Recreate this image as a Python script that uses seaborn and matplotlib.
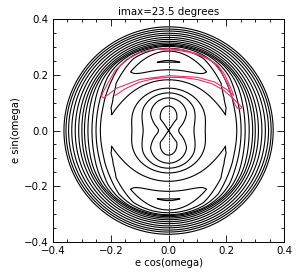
import numpy as np
import pandas as pd
import seaborn as sns
import matplotlib
matplotlib.use('Agg')
import matplotlib.pyplot as plt
from matplotlib.ticker import MultipleLocator

# contour crossings: radius along the e cos axis and the
# level (in contour steps, figure-eight = 0, saddle just above -4) at that radius
x_axis_r = [0.0, 0.035, 0.088, 0.127, 0.17, 0.19, 0.205, 0.215, 0.226, 0.236,
            0.251, 0.265, 0.279, 0.291, 0.300, 0.311, 0.323, 0.335, 0.346, 0.355,
            0.362, 0.40]
x_axis_h = [0, -1, -2, -3, -3.7, -3.88, -3.95, -3.85, -3.5, -3, -2, -1, 0, 1, 2,
            3, 4, 5, 6, 7, 8, 13]

# same along the e sin axis (lobes of the eight, ovals, libration island, outer rings)
y_axis_r = [0.0, 0.05, 0.088, 0.117, 0.135, 0.152, 0.182, 0.218, 0.248, 0.285,
            0.295, 0.302, 0.305, 0.309, 0.314, 0.320, 0.327, 0.334, 0.342, 0.349,
            0.357, 0.364, 0.372, 0.41]
y_axis_h = [0, 0.6, 0, -1, -2, -3, -4, -5, -6.1, -5, -4, -3, -2, -1, 0, 1, 2, 3,
            4, 5, 6, 7, 8, 13]

levels = [-6, -5, -4, -3, -2, -1, 0, 1, 2, 3, 4, 5, 6, 7, 8]

# pink orbit
traj_x = [-0.186, -0.15, -0.10, -0.05, 0.00, 0.05, 0.10, 0.15, 0.19, 0.22, 0.243,
          0.253, 0.250, 0.238, 0.228, 0.218, 0.205, 0.185, 0.155, 0.11, 0.05, 0.00,
          -0.05, -0.10, -0.145, -0.185, -0.21, -0.228, -0.232, -0.225, -0.21, -0.18,
          -0.10, 0.00, 0.10, 0.16, 0.20, 0.218, 0.225, 0.222, 0.212, 0.195, 0.17,
          0.13, 0.08, 0.03, -0.03]
traj_y = [0.125, 0.150, 0.174, 0.186, 0.191, 0.190, 0.183, 0.168, 0.145, 0.118,
          0.095, 0.084, 0.078, 0.080, 0.097, 0.125, 0.165, 0.205, 0.245, 0.272,
          0.290, 0.294, 0.291, 0.279, 0.255, 0.215, 0.170, 0.135, 0.122, 0.117,
          0.128, 0.152, 0.183, 0.197, 0.191, 0.174, 0.148, 0.132, 0.125, 0.135,
          0.160, 0.200, 0.235, 0.262, 0.279, 0.288, 0.290]

# build the field: axis profiles blended with cos(2 omega)
g = np.linspace(-0.4, 0.4, 801)
xx, yy = np.meshgrid(g, g)
r = np.hypot(xx, yy)
hx = np.interp(r, x_axis_r, x_axis_h)
hy = np.interp(r, y_axis_r, y_axis_h)
cos2w = (xx**2 - yy**2) / np.maximum(r**2, 1e-12)
H = 0.5 * (hx + hy) + 0.5 * (hx - hy) * cos2w

sns.set_style('ticks')
plt.rcParams['font.family'] = ['DejaVu Sans']
plt.rcParams['contour.negative_linestyle'] = 'solid'

fig = plt.figure(figsize=(3.01, 2.76), dpi=100)
ax = fig.add_axes([0.176, 0.123, 0.768, 0.808])

ax.contour(xx, yy, H, levels=levels, colors='black', linewidths=0.8,
           negative_linestyles='solid')
ax.axvline(0, ymin=0.035, ymax=0.965, color='black', lw=0.5, ls=(0, (3, 1)))

orbit = pd.DataFrame({'x': traj_x, 'y': traj_y})
sns.lineplot(data=orbit, x='x', y='y', sort=False, estimator=None,
             color='#e0356f', lw=0.8, ax=ax)

ax.set_xlim(-0.4, 0.4)
ax.set_ylim(-0.4, 0.4)
ax.set_xticks([-0.4, -0.2, 0.0, 0.2, 0.4])
ax.set_yticks([-0.4, -0.2, 0.0, 0.2, 0.4])
ax.xaxis.set_minor_locator(MultipleLocator(0.05))
ax.yaxis.set_minor_locator(MultipleLocator(0.05))
ax.tick_params(which='both', direction='in', top=True, right=True, width=0.6,
               labelsize=7.4, pad=3, colors='black')
ax.tick_params(which='major', length=5)
ax.tick_params(which='minor', length=2.5)
for s in ax.spines.values():
    s.set_linewidth(0.7)
    s.set_color('black')

ax.set_title('imax=23.5 degrees', fontsize=7.4, pad=3, color='black')
ax.set_xlabel('e cos(omega)', fontsize=7.2, labelpad=1, color='black')
ax.set_ylabel('e sin(omega)', fontsize=7.2, labelpad=2, color='black')

fig.savefig('out.png', dpi=100)
